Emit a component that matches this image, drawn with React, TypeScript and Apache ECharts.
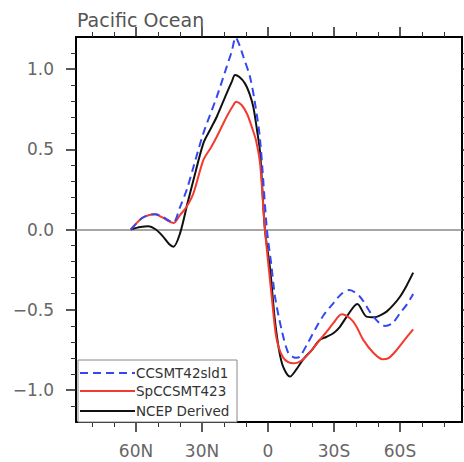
import React, { useEffect, useRef } from "react";
import * as echarts from "echarts";

// ---- data (latitude: + = north, - = south) ----
const seriesNames = ["CCSMT42sld1", "SpCCSMT423", "NCEP Derived"];

const ccsmLat = [62.4, 57.4, 54, 51.4, 48, 45, 43, 40, 37, 33.9, 29.4, 23.3, 18.8, 16.5, 14.7, 13, 11.2, 8.2, 5.9, 3.6, 0.5, -1.5, -3.2, -6.2, -9.2, -11.5, -13, -14.5, -18, -22.1, -25.5, -29.7, -33.5, -37, -41.8, -47.9, -53.2, -56.5, -60, -63, -66];
const ccsmVal = [0, 0.07, 0.09, 0.095, 0.08, 0.055, 0.045, 0.14, 0.246, 0.39, 0.6, 0.827, 1.014, 1.11, 1.197, 1.15, 1.077, 0.952, 0.786, 0.558, 0, -0.22, -0.42, -0.626, -0.77, -0.795, -0.8, -0.792, -0.71, -0.606, -0.53, -0.46, -0.4, -0.377, -0.419, -0.543, -0.601, -0.585, -0.522, -0.47, -0.402];

const spLat = [62.4, 57.4, 54, 51.4, 48, 45, 43, 40, 37, 33.9, 29.4, 26, 23.3, 18.8, 16, 14.5, 12, 9.5, 7.4, 5.5, 3.6, 1.4, -1.7, -3.5, -5, -7, -9, -11.5, -13.5, -16, -20, -23.6, -26.5, -29.7, -33.5, -37.3, -40, -43.3, -48, -52.1, -55, -58.5, -62, -66];
const spVal = [0, 0.07, 0.09, 0.095, 0.075, 0.05, 0.04, 0.09, 0.142, 0.226, 0.433, 0.51, 0.578, 0.703, 0.77, 0.796, 0.776, 0.72, 0.64, 0.558, 0.41, 0, -0.42, -0.65, -0.74, -0.8, -0.825, -0.834, -0.83, -0.809, -0.75, -0.688, -0.64, -0.584, -0.528, -0.553, -0.6, -0.688, -0.77, -0.809, -0.8, -0.751, -0.69, -0.622];

const ncepLat = [62.4, 58, 54.5, 51, 48, 45, 43, 40, 36.5, 33.9, 29.4, 26, 23.3, 18.8, 16.5, 15, 13, 10.5, 8.5, 6.7, 5, 3.6, 1.4, -1, -3, -5, -7, -10, -13, -16, -20, -23.6, -26.5, -29.7, -32.5, -35.8, -40.6, -44.8, -48.5, -51, -53.9, -57, -60, -63, -66];
const ncepVal = [0, 0.015, 0.02, 0, -0.04, -0.09, -0.107, -0.024, 0.17, 0.308, 0.537, 0.63, 0.703, 0.849, 0.92, 0.963, 0.95, 0.911, 0.85, 0.765, 0.62, 0.48, 0, -0.25, -0.55, -0.75, -0.86, -0.917, -0.87, -0.81, -0.75, -0.688, -0.67, -0.647, -0.61, -0.543, -0.464, -0.543, -0.547, -0.535, -0.512, -0.47, -0.419, -0.35, -0.269];

const xMajorTicks = [-60, -30, 0, 30, 60];
const xMinorTicks = [-80, -70, -50, -40, -20, -10, 10, 20, 40, 50, 70, 80];
const yMajorTicks = [-1.0, -0.5, 0.0, 0.5, 1.0];
const yMinorTicks = [-1.1, -0.9, -0.8, -0.7, -0.6, -0.4, -0.3, -0.2, -0.1, 0.1, 0.2, 0.3, 0.4, 0.6, 0.7, 0.8, 0.9, 1.1];
const zeroLine = 0;
const title = "Pacific Ocean";

const COLORS = ["#3347f2", "#f43a2e", "#111111"];
const FONT = "DejaVu Sans";

const pairs = (xs: number[], ys: number[]) => xs.map((x, i) => [x, ys[i]]);

const fmtLat = (v: number) => {
  const r = Math.round(v);
  if (r === 0) return "0";
  return r > 0 ? `${r}N` : `${-r}S`;
};
const fmtY = (v: number) => {
  const s = (Math.round(v * 10) / 10).toFixed(1);
  return s.startsWith("-") ? "\u2212" + s.slice(1) : s;
};

export default function App() {
  const ref = useRef<HTMLDivElement>(null);
  useEffect(() => {
    if (!ref.current) return;
    const chart = echarts.init(ref.current, undefined, { renderer: "svg" });

    const xBase = { type: "value", min: -88.2, max: 87.3, inverse: true, splitLine: { show: false }, gridIndex: 0 };
    const yBase = { type: "value", min: -1.2, max: 1.2, splitLine: { show: false }, gridIndex: 0 };
    const lineAxis = { show: true, onZero: false, lineStyle: { color: "#000", width: 2 } };
    const noLine = { show: false, onZero: false };
    const majorTick = (vals: number[]) => ({ show: true, inside: false, length: 10, customValues: vals, lineStyle: { color: "#222", width: 1.5 } });
    const minorTick = (vals: number[]) => ({ show: true, inside: false, length: 5, customValues: vals, lineStyle: { color: "#333", width: 1 } });

    const series: any[] = [
      { data: pairs(ncepLat, ncepVal), color: COLORS[2], dash: "solid", name: seriesNames[2] },
      { data: pairs(spLat, spVal), color: COLORS[1], dash: "solid", name: seriesNames[1] },
      { data: pairs(ccsmLat, ccsmVal), color: COLORS[0], dash: [8, 5], name: seriesNames[0] },
    ].map((s, i) => ({
      type: "line",
      name: s.name,
      data: s.data,
      xAxisIndex: 0,
      yAxisIndex: 0,
      smooth: 0.3,
      showSymbol: false,
      symbol: "none",
      lineStyle: { color: s.color, width: 2, type: s.dash },
      z: 3 + i,
      markLine: i === 0 ? {
        silent: true,
        symbol: ["none", "none"],
        label: { show: false },
        lineStyle: { color: "#888", width: 1.5, type: "solid" },
        data: [{ yAxis: zeroLine }],
        z: 1,
      } : undefined,
    }));

    const legendRows = [373, 391, 411];
    const legendGraphic: any[] = [
      { type: "rect", shape: { x: 78, y: 360, width: 159, height: 62 }, style: { fill: "#fff", stroke: "#888", lineWidth: 1 }, z: 50 },
    ];
    [0, 1, 2].forEach((i) => {
      legendGraphic.push({
        type: "line",
        shape: { x1: 80, y1: legendRows[i], x2: 135, y2: legendRows[i] },
        style: { stroke: COLORS[i], lineWidth: 2, lineDash: i === 0 ? [8, 5] : null },
        z: 51,
      });
      legendGraphic.push({
        type: "text",
        x: 136,
        y: legendRows[i],
        style: { text: seriesNames[i], fill: "#333", fontSize: 13.5, fontFamily: FONT, verticalAlign: "middle", align: "left" },
        z: 51,
      });
    });

    chart.setOption({
      animation: false,
      backgroundColor: "#fff",
      grid: { left: 76, top: 37, right: 2, bottom: 40, containLabel: false },
      xAxis: [
        { ...xBase, position: "bottom", axisLine: lineAxis, axisTick: majorTick(xMajorTicks), axisLabel: { show: true, customValues: xMajorTicks, formatter: fmtLat, color: "#666", fontSize: 17, fontFamily: FONT, margin: 20 } },
        { ...xBase, position: "bottom", axisLine: noLine, axisTick: minorTick(xMinorTicks), axisLabel: { show: false, customValues: xMinorTicks } },
        { ...xBase, position: "top", axisLine: lineAxis, axisTick: majorTick(xMajorTicks), axisLabel: { show: false, customValues: xMajorTicks } },
        { ...xBase, position: "top", axisLine: noLine, axisTick: minorTick(xMinorTicks), axisLabel: { show: false, customValues: xMinorTicks } },
      ],
      yAxis: [
        { ...yBase, position: "left", axisLine: lineAxis, axisTick: majorTick(yMajorTicks), axisLabel: { show: true, customValues: yMajorTicks, formatter: fmtY, color: "#666", fontSize: 17, fontFamily: FONT, margin: 22 } },
        { ...yBase, position: "left", axisLine: noLine, axisTick: minorTick(yMinorTicks), axisLabel: { show: false, customValues: yMinorTicks } },
        { ...yBase, position: "right", axisLine: lineAxis, axisTick: majorTick(yMajorTicks), axisLabel: { show: false, customValues: yMajorTicks } },
        { ...yBase, position: "right", axisLine: noLine, axisTick: minorTick(yMinorTicks), axisLabel: { show: false, customValues: yMinorTicks } },
      ],
      title: {
        text: title,
        left: 72,
        top: 5,
        textStyle: { color: "#555", fontSize: 19, fontWeight: "normal", fontFamily: FONT },
      },
      series,
      graphic: legendGraphic,
    });
    return () => chart.dispose();
  }, []);
  return <div ref={ref} style={{ position: "fixed", left: 0, top: 0, width: 464, height: 462, background: "#fff" }} />;
}
